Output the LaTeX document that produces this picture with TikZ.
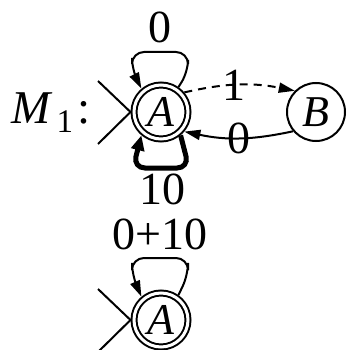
\documentclass[tikz,border=0pt]{standalone}
\usepackage{fontspec}
\setmainfont{Liberation Serif}
\usetikzlibrary{arrows.meta}
\begin{document}
\begin{tikzpicture}[x=1pt,y=-1pt,
  lbl/.style={font=\fontsize{46}{50}\selectfont, inner sep=0pt},
  state/.style={circle, draw, line width=2pt, minimum size=58pt, inner sep=0pt,
    font=\fontsize{44}{50}\selectfont\itshape},
  accept/.style={state, double, double distance=3pt, minimum size=54pt, outer sep=3.5pt},
  tip/.style={-{Triangle[length=16pt,width=10pt]}},
  thin/.style={line width=2pt},
  thick/.style={line width=5pt},
]
\useasboundingbox (0,0) rectangle (347,350);
\node[accept] (A) at (161,112) {A};
\node[state] (B) at (316,112) {B};
\node[accept] (A2) at (161,320) {A};
\node[lbl, anchor=base west] (M) at (11,123) {\fontsize{47}{50}\selectfont\textit{M}\kern4pt\raisebox{-9pt}{\fontsize{33}{40}\selectfont 1}\kern4pt:};
% initial markers
\coordinate (i1) at (98,81);
\coordinate (i2) at (98,144);
\coordinate (j1) at (98,289);
\coordinate (j2) at (98,352);
\draw[thin] (i1) -- (A.180) -- (i2);
\draw[thin] (j1) -- (A2.180) -- (j2);
% top loop
\coordinate (t1) at (188,72);
\coordinate (t2) at (188,52);
\coordinate (t3) at (132,52);
\coordinate (t4) at (132,70);
\draw[thin, tip, rounded corners=12pt] (A.55) -- (t1) -- (t2) -- (t3) -- (t4) -- (A.130);
\node[lbl] (l0) at (160,27) {0};
% dashed 1
\draw[thin, tip, dashed, dash pattern=on 8pt off 6pt] (A.40) to[bend left=12] node[lbl, pos=0.45] (l1) {1} (B.135);
% back 0
\draw[thin, tip] (B.220) to[bend left=12] node[lbl, pos=0.5] (l2) {0} (A.-40);
% thick loop
\coordinate (b1) at (189,168);
\coordinate (b2) at (133,168);
\draw[thick, -{Triangle[length=15pt,width=13pt]}, rounded corners=12pt] (A.-50) -- (b1) -- (b2) -- (A.-130);
\node[lbl] (l3) at (162,189) {10};
\node[lbl] (l4) at (160,234) {0+10};
% bottom loop
\coordinate (u1) at (188,275);
\coordinate (u2) at (188,258);
\coordinate (u3) at (132,258);
\coordinate (u4) at (132,275);
\draw[thin, tip, rounded corners=12pt] (A2.55) -- (u1) -- (u2) -- (u3) -- (u4) -- (A2.130);
\end{tikzpicture}
\end{document}
